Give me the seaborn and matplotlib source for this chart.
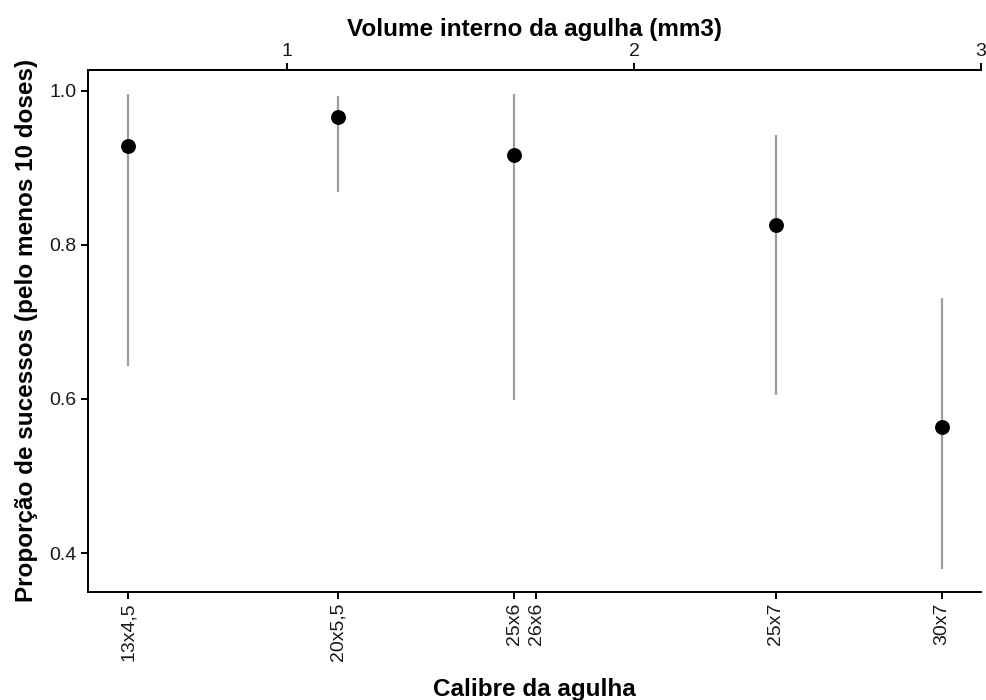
import numpy as np
import pandas as pd
import matplotlib
matplotlib.use("Agg")
import matplotlib.pyplot as plt
import seaborn as sns

# Calibres (eixo de baixo) e volume interno (mm3)
calibres = ["13x4,5", "20x5,5", "25x6", "26x6", "25x7", "30x7"]
volumes = [0.541, 1.145, 1.654, 1.717, 2.408, 2.887]

# Resultados por calibre testado (26x6 sem dados)
calibres_teste = ["13x4,5", "20x5,5", "25x6", "25x7", "30x7"]
proporcao = [0.928, 0.965, 0.916, 0.826, 0.563]
ic_inf = [0.643, 0.869, 0.598, 0.605, 0.379]
ic_sup = [0.996, 0.993, 0.995, 0.942, 0.731]

vol_map = dict(zip(calibres, volumes))
df = pd.DataFrame({
    "calibre": calibres_teste,
    "volume": [vol_map[c] for c in calibres_teste],
    "prop": proporcao,
    "inf": ic_inf,
    "sup": ic_sup,
})

sns.set_style("ticks")
plt.rcParams['font.family'] = ['Liberation Sans', 'DejaVu Sans']
plt.rcParams['text.color'] = 'black'
plt.rcParams['axes.labelcolor'] = 'black'

fig = plt.figure(figsize=(9.86, 7.0), dpi=100)
ax = fig.add_axes([0.0892, 0.1547, 0.9058, 0.7453])

ax.vlines(df["volume"], df["inf"], df["sup"], color="#9e9e9e", linewidth=1.6, zorder=1)
sns.scatterplot(data=df, x="volume", y="prop", color="black", s=115,
                edgecolor="black", linewidth=0, ax=ax, zorder=2)

ax.set_xlim(0.425, 3.0)
ax.set_ylim(0.350, 1.0266)
ax.set_yticks([0.4, 0.6, 0.8, 1.0])
ax.set_yticklabels(["0.4", "0.6", "0.8", "1.0"])
ax.set_xticks(volumes)
ax.set_xticklabels(calibres, rotation=90)

for side in ["left", "bottom", "top", "right"]:
    ax.spines[side].set_linewidth(1.4)
    ax.spines[side].set_color("black")
ax.spines["right"].set_visible(False)
ax.tick_params(axis="both", length=5, width=1.4, color="black",
               labelsize=14, labelcolor="#1a1a1a", pad=3)

ax.set_xlabel("Calibre da agulha", fontsize=17.5, fontweight="bold",
              color="black", labelpad=12)
ax.set_ylabel("Proporção de sucessos (pelo menos 10 doses)", fontsize=17.5,
              fontweight="bold", color="black", labelpad=8)

top = ax.secondary_xaxis("top")
top.set_xticks([1, 2, 3])
top.set_xticklabels(["1", "2", "3"])
top.tick_params(length=5, width=1.4, color="black", labelsize=14,
                labelcolor="#1a1a1a", pad=2)
top.spines["top"].set_linewidth(1.4)
top.set_xlabel("Volume interno da agulha (mm3)", fontsize=17.5,
               fontweight="bold", color="black", labelpad=5)

fig.savefig("out.png", dpi=100)
